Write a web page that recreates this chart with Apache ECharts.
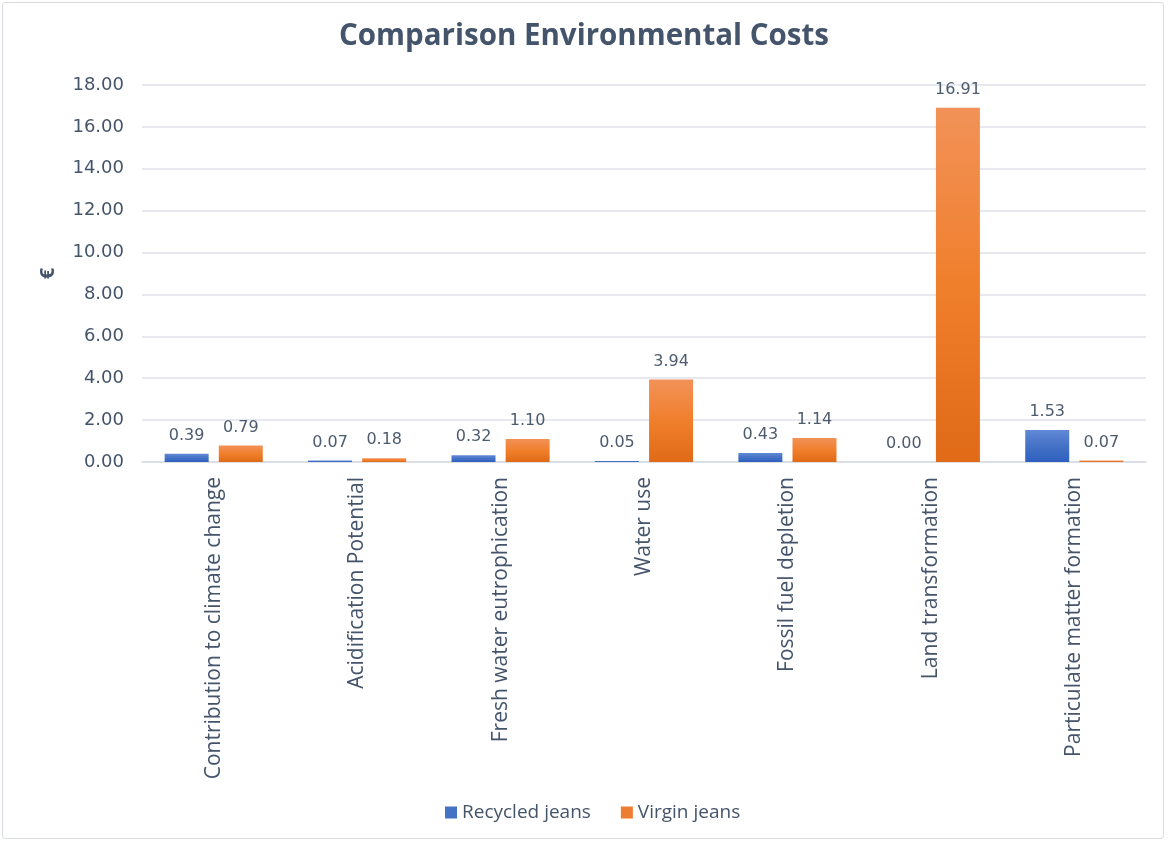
<!DOCTYPE html>
<html>
<head>
<meta charset="utf-8">
<script src="https://cdn.jsdelivr.net/npm/echarts@6/dist/echarts.min.js"></script>
<style>
  html, body { margin: 0; padding: 0; background: #fff; }
  #wrap { position: absolute; left: 2px; top: 2px; width: 1162px; height: 837px;
          border: 1.5px solid #d9dde3; border-radius: 3px; box-sizing: border-box; }
  #chart { position: absolute; left: 0; top: 0; width: 1168px; height: 843px; }
</style>
</head>
<body>
<div id="wrap"></div>
<div id="chart"></div>
<script>
// Environmental cost categories and values (€) per pair of jeans
const categories = [
  'Contribution to climate change',
  'Acidification Potential',
  'Fresh water eutrophication',
  'Water use',
  'Fossil fuel depletion',
  'Land transformation',
  'Particulate matter formation'
];
const recycled = [0.39, 0.07, 0.32, 0.05, 0.43, 0.00, 1.53];
const virgin   = [0.79, 0.18, 1.10, 3.94, 1.14, 16.91, 0.07];
const seriesNames = ['Recycled jeans', 'Virgin jeans'];

const textColor = '#44546a';
const labelColor = '#4d5b6e';

function grad(top, mid, bottom) {
  return new echarts.graphic.LinearGradient(0, 0, 0, 1, [
    { offset: 0, color: top },
    { offset: 0.5, color: mid },
    { offset: 1, color: bottom }
  ]);
}
const blueFill = grad('#6189d8', '#4472c4', '#2f5fbf');
const orangeFill = grad('#f29258', '#f07f2c', '#e06a16');

const chart = echarts.init(document.getElementById('chart'));
chart.setOption({
  backgroundColor: 'transparent',
  title: {
    text: 'Comparison Environmental Costs',
    left: 'center',
    top: 17,
    textStyle: { fontFamily: 'Open Sans', fontWeight: 'bold', fontSize: 29.5, color: textColor }
  },
  legend: {
    data: [
      { name: seriesNames[0], itemStyle: { color: '#4472c4' } },
      { name: seriesNames[1], itemStyle: { color: '#ed7d31' } }
    ],
    bottom: 16,
    left: 440,
    itemWidth: 12,
    itemHeight: 12,
    itemGap: 30,
    icon: 'rect',
    textStyle: { fontFamily: 'Open Sans', fontSize: 19, color: textColor }
  },
  grid: { left: 142, right: 22, top: 85, bottom: 381 },
  xAxis: {
    type: 'category',
    data: categories,
    axisLine: { lineStyle: { color: '#d9dde3', width: 1.5 } },
    axisTick: { show: false },
    axisLabel: {
      rotate: 90,
      margin: 15,
      interval: 0,
      fontFamily: 'Open Sans',
      fontSize: 21,
      color: textColor
    }
  },
  yAxis: {
    type: 'value',
    min: 0,
    max: 18,
    interval: 2,
    name: '€',
    nameLocation: 'middle',
    nameGap: 84,
    nameRotate: 90,
    nameTextStyle: { fontFamily: 'Open Sans', fontWeight: 'bold', fontSize: 20, color: textColor },
    axisLine: { show: false },
    axisTick: { show: false },
    splitLine: { lineStyle: { color: '#dfe2e8', width: 1.5 } },
    axisLabel: {
      margin: 18,
      fontFamily: 'DejaVu Sans',
      fontSize: 18,
      color: textColor,
      formatter: v => v.toFixed(2)
    }
  },
  series: [
    {
      name: seriesNames[0],
      type: 'bar',
      data: recycled,
      barWidth: 44,
      barGap: '23%',
      itemStyle: { color: blueFill },
      label: {
        show: true, position: 'top', distance: 10,
        fontFamily: 'DejaVu Sans', fontSize: 16, color: labelColor,
        formatter: p => p.value.toFixed(2)
      }
    },
    {
      name: seriesNames[1],
      type: 'bar',
      data: virgin,
      barWidth: 44,
      barGap: '23%',
      itemStyle: { color: orangeFill },
      label: {
        show: true, position: 'top', distance: 10,
        fontFamily: 'DejaVu Sans', fontSize: 16, color: labelColor,
        formatter: p => p.value.toFixed(2)
      }
    }
  ]
});
</script>
</body>
</html>
